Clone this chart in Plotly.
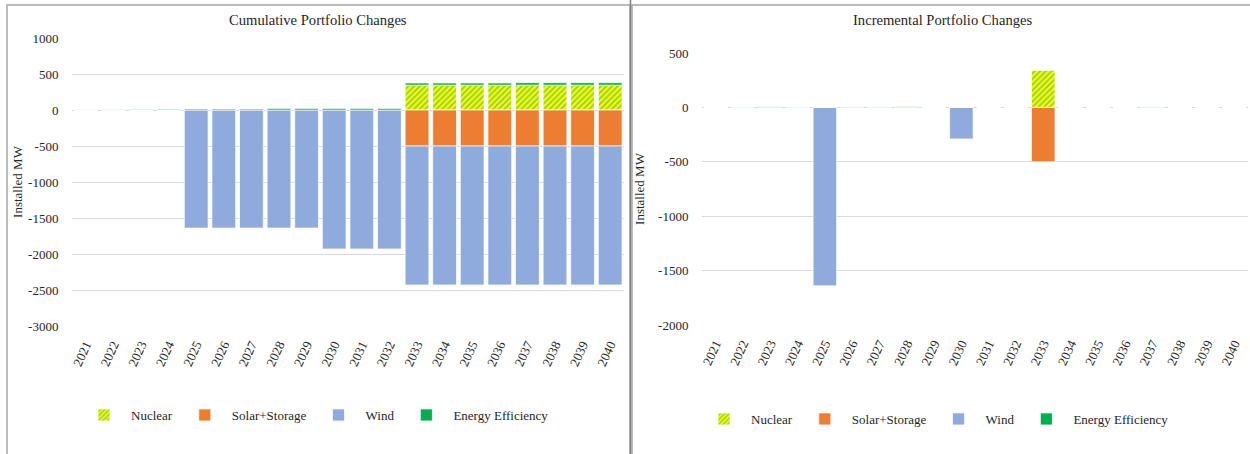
import plotly.graph_objects as go

years = [str(y) for y in range(2021, 2041)]

# Cumulative portfolio changes (MW)
cum_nuclear = [0, 0, 0, 0, 0, 0, 0, 0, 0, 0, 0, 0, 345, 345, 345, 345, 345, 345, 345, 345]
cum_solar = [0, 0, 0, 0, 0, 0, 0, 0, 0, 0, 0, 0, -500, -500, -500, -500, -500, -500, -500, -500]
cum_wind = [0, 0, 0, 0, -1640, -1640, -1640, -1640, -1640, -1930, -1930, -1930,
            -1930, -1930, -1930, -1930, -1930, -1930, -1930, -1930]
cum_ee = [1, 3, 8, 10, 14, 14, 14, 22, 22, 22, 22, 22, 30, 30, 30, 30, 34, 34, 34, 34]

# Incremental portfolio changes (MW)
inc_nuclear = [0, 0, 0, 0, 0, 0, 0, 0, 0, 0, 0, 0, 345, 0, 0, 0, 0, 0, 0, 0]
inc_solar = [0, 0, 0, 0, 0, 0, 0, 0, 0, 0, 0, 0, -500, 0, 0, 0, 0, 0, 0, 0]
inc_wind = [0, 0, 0, 0, -1640, 0, 0, 0, 0, -290, 0, 0, 0, 0, 0, 0, 0, 0, 0, 0]
inc_ee = [0, 3, 5, 3, 0, 4, 4, 6, 0, 0, 0, 0, 0, 0, 0, 0, 4, 0, 0, 0]

# Axis tick labels
cum_ticks = [1000, 500, 0, -500, -1000, -1500, -2000, -2500, -3000]
cum_ticktext = ["1000", "500", "0", "-500", "-1000", "-1500", "-2000", "-2500", "-3000"]
inc_ticks = [500, 0, -500, -1000, -1500, -2000]
inc_ticktext = ["500", "0", "-500", "-1000", "-1500", "-2000"]

series_names = ["Nuclear", "Solar+Storage", "Wind", "Energy Efficiency"]
colors = {"Solar+Storage": "#ED7D31", "Wind": "#8FAADC", "Energy Efficiency": "#00B050"}

FONT = "Liberation Serif, Times New Roman, serif"
TXT = "#262626"

fig = go.Figure()

def add_set(vals, xa, ya, legend):
    for name, v in zip(series_names, vals):
        marker = dict(line=dict(color="rgba(255,255,255,0.7)", width=1))
        if name == "Nuclear":
            marker.update(color="#F2FF00",
                          pattern=dict(shape="/", fgcolor="#92C83E", bgcolor="#F2FF00",
                                       size=4, solidity=0.4, fillmode="replace"))
        else:
            marker["color"] = colors[name]
        fig.add_trace(go.Bar(x=years, y=v, name=name, marker=marker,
                             xaxis=xa, yaxis=ya, legend=legend,
                             hoverinfo="x+y+name"))

add_set([cum_nuclear, cum_solar, cum_wind, cum_ee], "x", "y", "legend")
add_set([inc_nuclear, inc_solar, inc_wind, inc_ee], "x2", "y2", "legend2")

W, H = 1250, 454
def px(x): return x / W
def py(y): return 1 - y / H

axis_font = dict(family=FONT, size=13, color=TXT)

def xaxis_cfg(dom, anchor):
    return dict(domain=dom, anchor=anchor, tickangle=-65, tickfont=axis_font,
                showgrid=False, showline=False, ticks="outside", ticklen=5,
                tickcolor="rgba(0,0,0,0)", type="category", automargin=False)

def yaxis_cfg(dom, anchor, rng, tv, tt, standoff):
    return dict(domain=dom, anchor=anchor, range=rng, tickvals=tv, ticktext=tt,
                tickfont=axis_font, gridcolor="#D9D9D9", gridwidth=1, zeroline=False,
                showline=False, ticks="outside", ticklen=10, tickcolor="rgba(0,0,0,0)",
                automargin=False,
                title=dict(text="Installed MW", font=dict(family=FONT, size=13, color=TXT),
                           standoff=standoff))

legend_common = dict(orientation="h", xanchor="left", yanchor="middle",
                     font=dict(family=FONT, size=13, color=TXT),
                     itemwidth=44, traceorder="normal", bgcolor="rgba(0,0,0,0)")

fig.update_layout(
    width=W, height=H,
    margin=dict(l=0, r=0, t=0, b=0, autoexpand=False),
    paper_bgcolor="white", plot_bgcolor="white",
    barmode="relative", bargap=0.14,
    font=dict(family=FONT, size=13, color=TXT),
    xaxis=xaxis_cfg([px(72), px(624)], "y"),
    yaxis=yaxis_cfg([py(326), py(38)], "x", [-3000, 1000], cum_ticks, cum_ticktext, 2),
    xaxis2=xaxis_cfg([px(702), px(1248)], "y2"),
    yaxis2=yaxis_cfg([py(325), py(53)], "x2", [-2000, 500], inc_ticks, inc_ticktext, 10),
    legend=dict(x=px(77), y=py(415), **legend_common),
    legend2=dict(x=px(697), y=py(419), **legend_common),
    annotations=[
        dict(text="Cumulative Portfolio Changes", x=px(318), y=py(20), xref="paper", yref="paper",
             xanchor="center", yanchor="middle",
             showarrow=False, font=dict(family=FONT, size=14.6, color=TXT)),
        dict(text="Incremental Portfolio Changes", x=px(942), y=py(20), xref="paper", yref="paper",
             xanchor="center", yanchor="middle",
             showarrow=False, font=dict(family=FONT, size=14.6, color=TXT)),
    ],
    shapes=[
        dict(type="rect", xref="paper", yref="paper", x0=px(7), x1=px(630), y0=-0.05, y1=py(5),
             line=dict(color="#A6A6A6", width=1.5), layer="below"),
        dict(type="rect", xref="paper", yref="paper", x0=px(632), x1=px(1252), y0=-0.05, y1=py(5),
             line=dict(color="#A6A6A6", width=1.5), layer="below"),
        dict(type="line", xref="paper", yref="paper", x0=px(630.5), x1=px(630.5), y0=0, y1=1,
             line=dict(color="#808080", width=1.5)),
    ],
)

fig.write_html("out.html", config={"displayModeBar": False},
               post_script="document.body.style.margin='0';")
